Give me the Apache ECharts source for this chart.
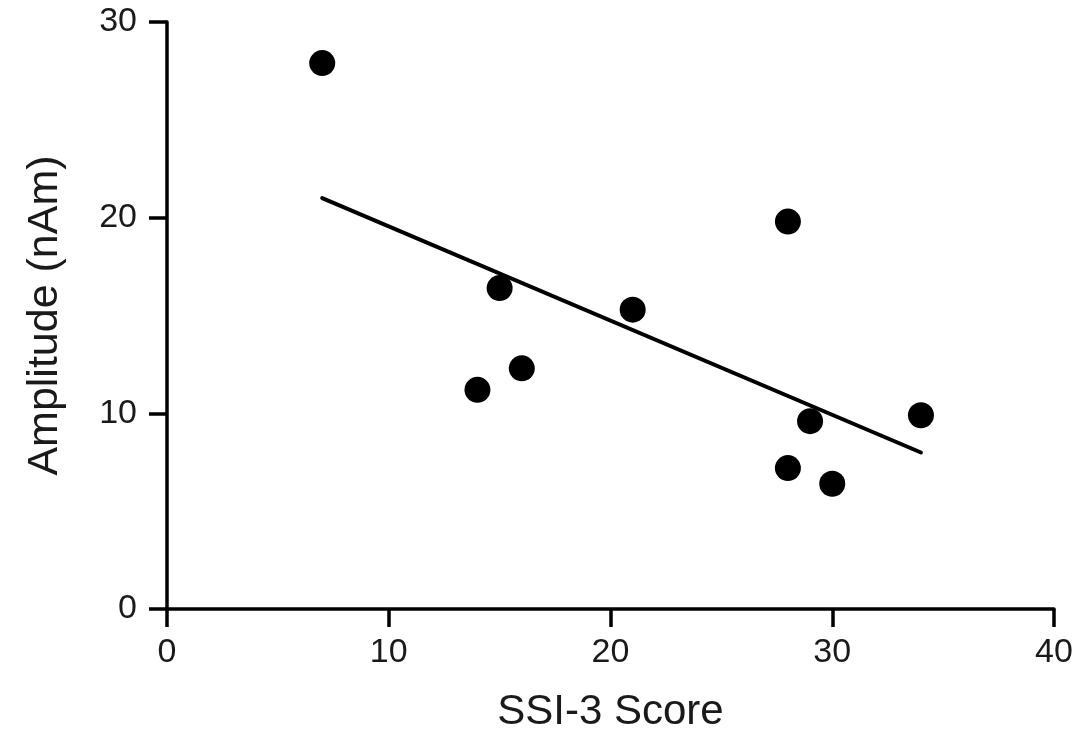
<!DOCTYPE html>
<html>
<head>
<meta charset="utf-8">
<script src="https://cdn.jsdelivr.net/npm/echarts@6/dist/echarts.min.js"></script>
<style>
html,body{margin:0;padding:0;background:#fff;overflow:hidden;}
#chart{width:1091px;height:738px;}
</style>
</head>
<body>
<div id="chart"></div>
<script>
// Data
const ssiScore = [7, 14, 15, 16, 21, 28, 28, 29, 30, 34];
const amplitude = [27.9, 11.2, 16.4, 12.3, 15.3, 19.8, 7.2, 9.6, 6.4, 9.9];
const fitX = [7, 34];
const fitY = [21.0, 8.0];
const xTicks = [0, 10, 20, 30, 40];
const yTicks = [0, 10, 20, 30];
const xTitle = 'SSI-3 Score';
const yTitle = 'Amplitude (nAm)';

const points = ssiScore.map((x, i) => [x, amplitude[i]]);
const fitLine = fitX.map((x, i) => [x, fitY[i]]);

const chart = echarts.init(document.getElementById('chart'), null, {renderer: 'canvas'});
const textColor = '#1a1a1a';
const font = 'Liberation Sans, Arial, sans-serif';
chart.setOption({
  animation: false,
  backgroundColor: '#fff',
  grid: {left: 167, right: 37, top: 22, bottom: 125, containLabel: false},
  xAxis: {
    type: 'value',
    min: xTicks[0], max: xTicks[xTicks.length - 1], interval: 10,
    name: xTitle, nameLocation: 'middle', nameGap: 82,
    nameTextStyle: {color: textColor, fontSize: 42, fontFamily: font},
    axisLine: {show: true, lineStyle: {color: '#000', width: 3.5}},
    axisTick: {show: true, inside: false, length: 18, lineStyle: {color: '#000', width: 3.5}},
    axisLabel: {color: textColor, fontSize: 34, fontFamily: font, margin: 27},
    splitLine: {show: false}
  },
  yAxis: {
    type: 'value',
    min: yTicks[0], max: yTicks[yTicks.length - 1], interval: 10,
    name: yTitle, nameLocation: 'middle', nameGap: 100,
    nameTextStyle: {color: textColor, fontSize: 43, fontFamily: font},
    axisLine: {show: true, lineStyle: {color: '#000', width: 3.5}},
    axisTick: {show: true, inside: false, length: 18, lineStyle: {color: '#000', width: 3.5}},
    axisLabel: {color: textColor, fontSize: 34, fontFamily: font, margin: 30},
    splitLine: {show: false}
  },
  series: [
    {
      type: 'line',
      data: fitLine,
      showSymbol: false,
      symbol: 'none',
      lineStyle: {color: '#000', width: 4, cap: 'round'},
      silent: true,
      z: 2
    },
    {
      type: 'scatter',
      data: points,
      symbol: 'circle',
      symbolSize: 26,
      itemStyle: {color: '#000', opacity: 1},
      z: 3
    }
  ]
});
</script>
</body>
</html>
